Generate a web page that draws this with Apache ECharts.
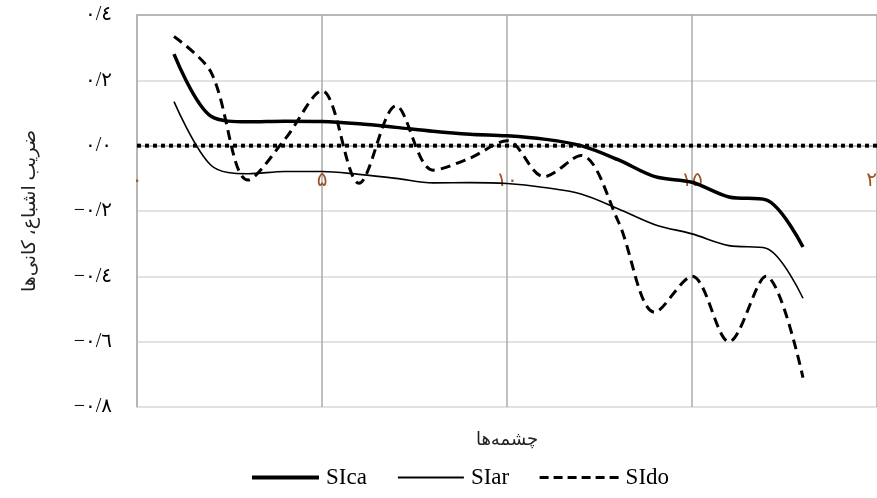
<!DOCTYPE html>
<html>
<head>
<meta charset="utf-8">
<script src="https://cdn.jsdelivr.net/npm/echarts@6/dist/echarts.min.js"></script>
<style>
html,body{margin:0;padding:0;background:#fff;}
#c{width:877px;height:498px;}
</style>
</head>
<body>
<div id="c"></div>
<script>
var xValues = [1,2,3,4,5,6,7,8,9,10,11,12,13,14,15,16,17,18];
var siCa = [0.28,0.09,0.073,0.075,0.074,0.067,0.056,0.044,0.035,0.03,0.02,0.0,-0.043,-0.095,-0.112,-0.157,-0.166,-0.31];
var siAr = [0.135,-0.06,-0.086,-0.079,-0.079,-0.088,-0.1,-0.114,-0.113,-0.116,-0.128,-0.148,-0.193,-0.242,-0.27,-0.306,-0.314,-0.467];
var siDo = [0.334,0.225,-0.105,0.02,0.168,-0.115,0.122,-0.075,-0.038,0.015,-0.095,-0.03,-0.23,-0.51,-0.4,-0.6,-0.4,-0.71];
var zeroLineX = [0,20];
var zeroLineY = [0,0];
var xTickValues = [0,5,10,15,20];
var xTickLabels = ['۰','۵','۱۰','۱۵','۲۰'];
var yTickValues = [-0.8,-0.6,-0.4,-0.2,0,0.2,0.4];
var yTickLabels = ['−٠/٨','−٠/٦','−٠/٤','−٠/٢','٠/٠','٠/٢','٠/٤'];
var seriesNames = ['SIca','SIar','SIdo'];
var xTitle = 'چشمه‌ها';
var yTitle = 'ضریب اشباع، کانی‌ها';

function pairs(xs, ys){ return xs.map(function(x,i){ return [x, ys[i]]; }); }
function lookup(vals, labels, v){
  for (var i=0;i<vals.length;i++){ if (Math.abs(vals[i]-v) < 1e-6) return labels[i]; }
  return '';
}

var chart = echarts.init(document.getElementById('c'), null, {renderer:'canvas'});
var serif = "'Liberation Serif', 'DejaVu Serif', serif";
var arab = "'Liberation Serif', 'DejaVu Sans', sans-serif";

function legendFor(i, left, width, lw, ltype){
  return {
    data: [{name: seriesNames[i], lineStyle: {width: lw, type: ltype, color: '#000'}, itemStyle: {opacity: 0}}],
    left: left, top: 466, padding: 0,
    itemWidth: width, itemHeight: 14,
    textStyle: {fontFamily: serif, fontSize: 23, color: '#000', padding: [0,0,0,2]}
  };
}

chart.setOption({
  animation: false,
  backgroundColor: '#fff',
  grid: {left: 137, right: 0, top: 15, bottom: 91, containLabel: false, outerBoundsMode: 'none'},
  legend: [
    legendFor(0, 250, 67, 4, 'solid'),
    legendFor(1, 397, 66, 1.8, 'solid'),
    legendFor(2, 538, 79, 3.2, [9,5])
  ],
  xAxis: [{
    type: 'value', min: 0, max: 20, interval: 5,
    name: xTitle, nameLocation: 'middle', nameGap: 24,
    nameTextStyle: {fontFamily: arab, fontSize: 18, color: '#222'},
    axisLine: {show: true, lineStyle: {color: '#b3b3b3', width: 1.5}},
    axisTick: {show: false},
    axisLabel: {
      margin: -236, color: '#9a5426', fontSize: 20, fontFamily: arab,
      showMaxLabel: true, showMinLabel: true,
      formatter: function(v){ return lookup(xTickValues, xTickLabels, v); }
    },
    splitLine: {show: true, lineStyle: {color: '#ababab', width: 1.5}}
  },{
    type: 'value', min: 0, max: 20, position: 'top',
    axisLine: {show: true, lineStyle: {color: '#ababab', width: 1.5}},
    axisTick: {show: false}, axisLabel: {show: false}, splitLine: {show: false}
  }],
  yAxis: {
    type: 'value', min: -0.8, max: 0.4, interval: 0.2,
    name: yTitle, nameLocation: 'middle', nameGap: 97, nameRotate: 90,
    nameTextStyle: {fontFamily: arab, fontSize: 19, color: '#222'},
    axisLine: {show: true, lineStyle: {color: '#b3b3b3', width: 1.5}},
    axisTick: {show: false},
    axisLabel: {
      margin: 25, color: '#000', fontSize: 20, fontFamily: arab,
      formatter: function(v){ return lookup(yTickValues, yTickLabels, v); }
    },
    splitLine: {show: true, lineStyle: {color: '#d9d9d9', width: 1.5}}
  },
  series: [
    {name: 'zero', type: 'line', data: pairs(zeroLineX, zeroLineY), showSymbol: false, symbol: 'none',
     lineStyle: {color: '#000', width: 4, type: [4,4]}, z: 3, silent: true},
    {name: seriesNames[0], type: 'line', data: pairs(xValues, siCa), smooth: 0.33, showSymbol: false, symbol: 'none',
     lineStyle: {color: '#000', width: 3.5, type: 'solid'}, itemStyle: {color: '#000'}, z: 4},
    {name: seriesNames[1], type: 'line', data: pairs(xValues, siAr), smooth: 0.33, showSymbol: false, symbol: 'none',
     lineStyle: {color: '#000', width: 1.6, type: 'solid'}, itemStyle: {color: '#000'}, z: 4},
    {name: seriesNames[2], type: 'line', data: pairs(xValues, siDo), smooth: 0.33, showSymbol: false, symbol: 'none',
     lineStyle: {color: '#000', width: 3, type: [10,6]}, itemStyle: {color: '#000'}, z: 4}
  ]
});
</script>
</body>
</html>
